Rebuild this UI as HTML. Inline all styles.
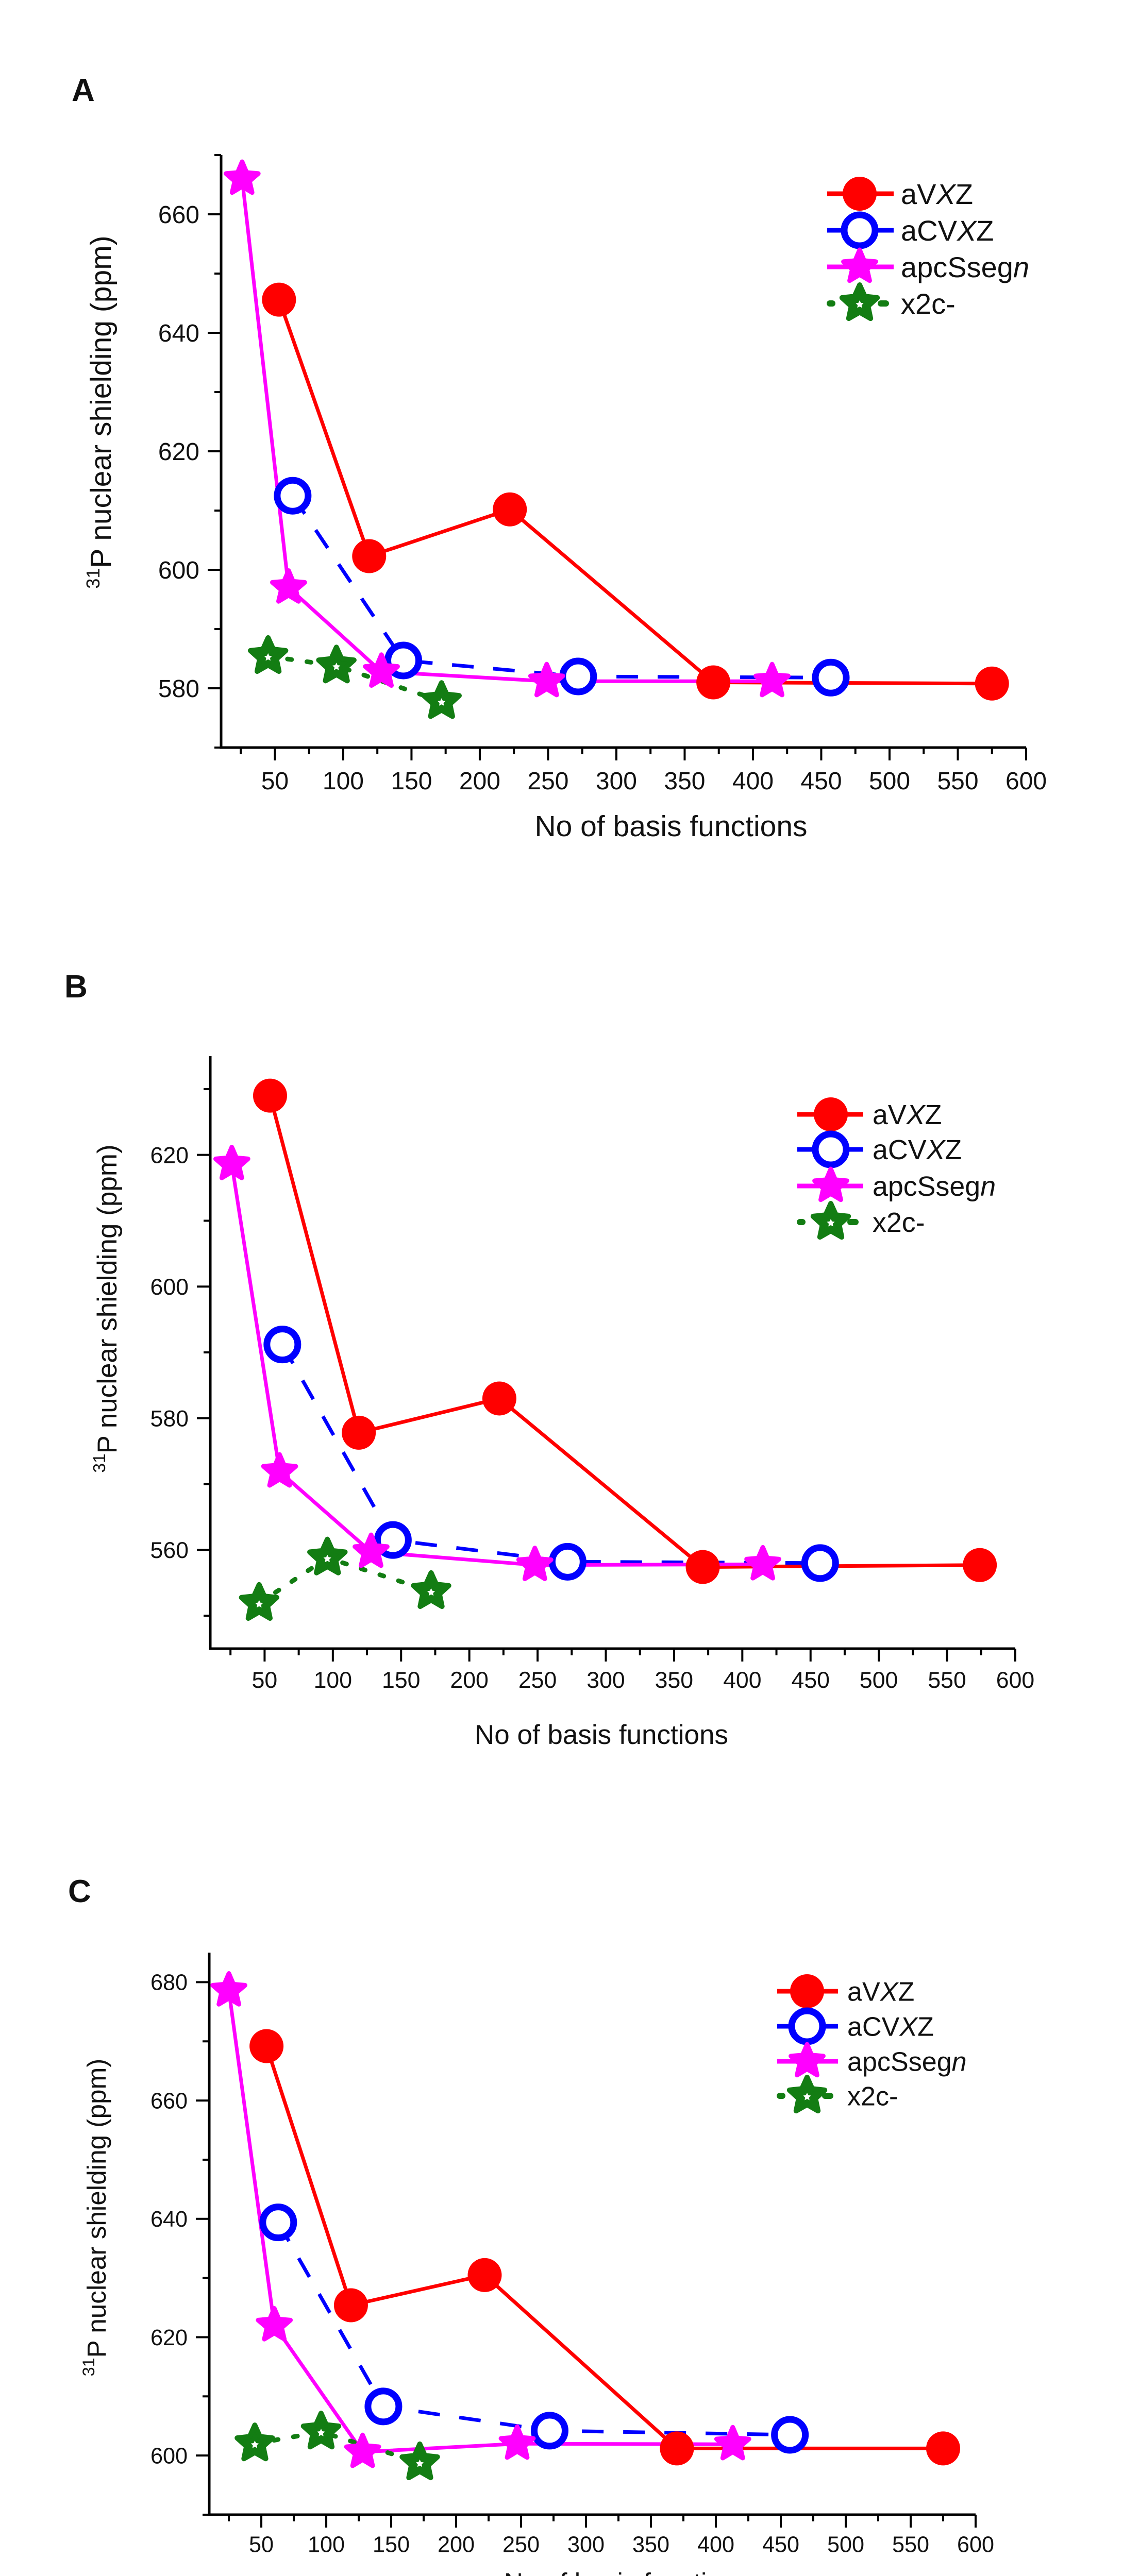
<!DOCTYPE html>
<html><head><meta charset="utf-8"><style>
html,body{margin:0;padding:0;background:#fff;width:2179px;height:5077px;overflow:hidden;}
svg{display:block;}
svg text{font-family:"Liberation Sans",Arial,sans-serif;fill:#111;}
</style></head><body>
<svg id="fig" xmlns="http://www.w3.org/2000/svg" width="2179" height="5077" viewBox="0 0 2179 5077">
<rect width="2179" height="5077" fill="#fff"/>
</svg>
<script>
// ---------- Panel A data ----------
const A_aVXZ_x = [53, 119, 222, 371, 575];
const A_aVXZ_y = [645.6, 602.3, 610.2, 581.0, 580.8];
const A_aCVXZ_x = [63, 144, 272, 457];
const A_aCVXZ_y = [612.5, 584.7, 582.0, 581.8];
const A_apc_x = [26, 60, 128, 249, 414];
const A_apc_y = [666.0, 597.0, 582.8, 581.2, 581.2];
const A_x2c_x = [45, 95, 172];
const A_x2c_y = [585.4, 583.8, 577.8];
const A_yTicks = [580, 600, 620, 640, 660];
// ---------- Panel B data ----------
const B_aVXZ_x = [54, 119, 222, 371, 574];
const B_aVXZ_y = [629.0, 577.8, 583.0, 557.4, 557.7];
const B_aCVXZ_x = [63, 144, 272, 457];
const B_aCVXZ_y = [591.2, 561.5, 558.2, 558.0];
const B_apc_x = [26, 61, 128, 248, 415];
const B_apc_y = [618.6, 571.9, 559.7, 557.7, 557.8];
const B_x2c_x = [46, 96, 172];
const B_x2c_y = [551.9, 558.8, 553.7];
const B_yTicks = [560, 580, 600, 620];
// ---------- Panel C data ----------
const C_aVXZ_x = [54, 119, 222, 370, 575];
const C_aVXZ_y = [669.2, 625.4, 630.5, 601.2, 601.2];
const C_aCVXZ_x = [63, 144, 272, 457];
const C_aCVXZ_y = [639.4, 608.3, 604.2, 603.5];
const C_apc_x = [25, 60, 128, 247, 413];
const C_apc_y = [678.6, 622.0, 600.6, 602.0, 601.9];
const C_x2c_x = [45, 96, 172];
const C_x2c_y = [602.0, 604.0, 598.8];
const C_yTicks = [600, 620, 640, 660, 680];
// shared
const xTickLabels = [50,100,150,200,250,300,350,400,450,500,550,600];
const seriesNames = ["aVXZ","aCVXZ","apcSsegn","x2c-"];

const NS="http://www.w3.org/2000/svg";
const svg=document.getElementById('fig');
function el(tag,attrs,parent){const e=document.createElementNS(NS,tag);for(const k in attrs)e.setAttribute(k,attrs[k]);(parent||svg).appendChild(e);return e;}

function starPts(cx,cy,R,r){let p=[];for(let i=0;i<10;i++){const a=-Math.PI/2+i*Math.PI/5;const rr=i%2?r:R;p.push((cx+rr*Math.cos(a)).toFixed(1)+','+(cy+rr*Math.sin(a)).toFixed(1));}return p.join(' ');}

function marker(g,type,cx,cy){
  let m;
  if(type===0){m=el('circle',{cx:cx,cy:cy,r:33,fill:'#ff0000'},g);}
  else if(type===1){m=el('circle',{cx:cx,cy:cy,r:30,fill:'#fff',stroke:'#0000ff','stroke-width':13},g);}
  else if(type===2){m=el('polygon',{points:starPts(cx,cy,33,15),fill:'#ff00ff',stroke:'#ff00ff','stroke-width':9,'stroke-linejoin':'round'},g);}
  else {m=el('g',{},g);
    el('polygon',{points:starPts(cx,cy,36,17),fill:'#137d13',stroke:'#137d13','stroke-width':10,'stroke-linejoin':'round'},m);
    el('polygon',{points:starPts(cx,cy+2,8,4),fill:'#fff'},m);}
  return m;
}
const colors=['#ff0000','#0000ff','#ff00ff','#137d13'];
const dashes=[null,'42 38',null,'8 30'];

function panel(c){
  const g=el('g',{});
  
  
  const X=v=>c.left+(v-c.xmin)/(c.xmax-c.xmin)*(c.right-c.left);
  const Y=v=>c.bottom-(v-c.ymin)/(c.ymax-c.ymin)*(c.bottom-c.top);
  const lab=el('text',{x:c.labX,y:c.labY+22,'font-size':62,'font-weight':'bold'},g);lab.textContent=c.id;
  
  
  const ax=el('path',{d:`M${c.left},${c.top}V${c.bottom}H${c.right}`,fill:'none',stroke:'#000','stroke-width':5},g);
  
  
  for(let v=25;v<=600;v+=25){
    const major=v%50===0;const x=X(v);
    el('line',{x1:x,y1:c.bottom,x2:x,y2:c.bottom+(major?25:13),stroke:'#000','stroke-width':4},g);
  }
  xTickLabels.forEach(v=>{const t=el('text',{x:X(v),y:c.bottom+c.xlabOff+17*c.fs,'font-size':48*c.fs,'text-anchor':'middle'},g);t.textContent=v;
    
    });
  for(let v=Math.ceil(c.ymin/10)*10;v<=c.ymax;v+=10){
    const major=c.yt.includes(v);const y=Y(v);
    el('line',{x1:c.left,y1:y,x2:c.left-(major?26:13),y2:y,stroke:'#000','stroke-width':4},g);
  }
  c.yt.forEach(v=>{const t=el('text',{x:c.left-42,y:Y(v)+17*c.fs,'font-size':48*c.fs,'text-anchor':'end'},g);t.textContent=v;
    
    });
  const xt=el('text',{x:c.xtX,y:c.xtY+20,'font-size':57*c.fs,'text-anchor':'middle'},g);xt.textContent='No of basis functions';
  
  
  const yt=el('text',{x:0,y:0,'font-size':57*c.fs,'text-anchor':'middle',transform:`translate(${c.ytX+20},${c.ytY}) rotate(-90)`},g);
  yt.innerHTML='<tspan font-size="'+(36*c.fs)+'" dy="-22">31</tspan><tspan dy="22">P nuclear shielding  (ppm)</tspan>';
  
  
  c.series.forEach((s,i)=>{
    const pts=s.x.map((v,k)=>X(v).toFixed(1)+','+Y(s.y[k]).toFixed(1)).join(' ');
    const a={points:pts,fill:'none',stroke:colors[i],'stroke-width':i===3?9:7,'stroke-linejoin':'round'};
    if(dashes[i]){a['stroke-dasharray']=dashes[i];}
    if(i===3)a['stroke-linecap']='round';
    const l=el('polyline',a,g);
    
    
  });
  [0,1,3,2].forEach(i=>{const s=c.series[i];
    s.x.forEach((v,k)=>{const m=marker(g,i,X(v),Y(s.y[k]));
      
      });
  });
  const lg=el('g',{},g);
  
  
  seriesNames.forEach((n,i)=>{
    const y=c.legY[i];
    const e=el('g',{},lg);
    
    
    if(i===3){
      el('line',{x1:c.legX1+5,y1:y,x2:c.legX1+10,y2:y,stroke:colors[3],'stroke-width':12,'stroke-linecap':'round'},e);
      el('line',{x1:c.legX2-25,y1:y,x2:c.legX2-15,y2:y,stroke:colors[3],'stroke-width':12,'stroke-linecap':'round'},e);
    } else {
      el('line',{x1:c.legX1,y1:y,x2:c.legX2,y2:y,stroke:colors[i],'stroke-width':9},e);
    }
    marker(e,i,c.legM,y);
    const t=el('text',{x:c.legT,y:y+20*c.lfs,'font-size':56*c.lfs},e);
    if(i===0)t.innerHTML='aV<tspan font-style="italic">X</tspan>Z';
    else if(i===1)t.innerHTML='aCV<tspan font-style="italic">X</tspan>Z';
    else if(i===2)t.innerHTML='apcSseg<tspan font-style="italic">n</tspan>';
    else t.textContent='x2c-';
  });
}

panel({id:'A',left:429,right:1991,top:301,bottom:1451,xmin:10.6,xmax:600,ymin:570,ymax:670,yt:A_yTicks,fs:1,lfs:1,
  xlabOff:64,xtX:1302,xtY:1603,ytX:195,ytY:800,labX:139,labY:174,
  legX1:1605,legX2:1734,legM:1668,legT:1748,legY:[376,447,518,589],
  series:[{x:A_aVXZ_x,y:A_aVXZ_y},{x:A_aCVXZ_x,y:A_aCVXZ_y},{x:A_apc_x,y:A_apc_y},{x:A_x2c_x,y:A_x2c_y}]});
panel({id:'B',left:408,right:1970,top:2050,bottom:3200,xmin:10.2,xmax:600,ymin:545,ymax:635,yt:B_yTicks,fs:0.93,lfs:0.96,
  xlabOff:60,xtX:1167,xtY:3365,ytX:206,ytY:2540,labX:125,labY:1914,
  legX1:1547,legX2:1675,legM:1612,legT:1693,legY:[2163,2231,2302,2372],
  series:[{x:B_aVXZ_x,y:B_aVXZ_y},{x:B_aCVXZ_x,y:B_aCVXZ_y},{x:B_apc_x,y:B_apc_y},{x:B_x2c_x,y:B_x2c_y}]});
panel({id:'C',left:406,right:1893,top:3790,bottom:4881,xmin:9.9,xmax:600,ymin:590,ymax:685,yt:C_yTicks,fs:0.9,lfs:0.93,
  xlabOff:57,xtX:1216,xtY:5010,ytX:185,ytY:4304,labX:132,labY:3670,
  legX1:1508,legX2:1626,legM:1566,legT:1644,legY:[3865,3933,4001,4068],
  series:[{x:C_aVXZ_x,y:C_aVXZ_y},{x:C_aCVXZ_x,y:C_aCVXZ_y},{x:C_apc_x,y:C_apc_y},{x:C_x2c_x,y:C_x2c_y}]});
</script>
</body></html>
